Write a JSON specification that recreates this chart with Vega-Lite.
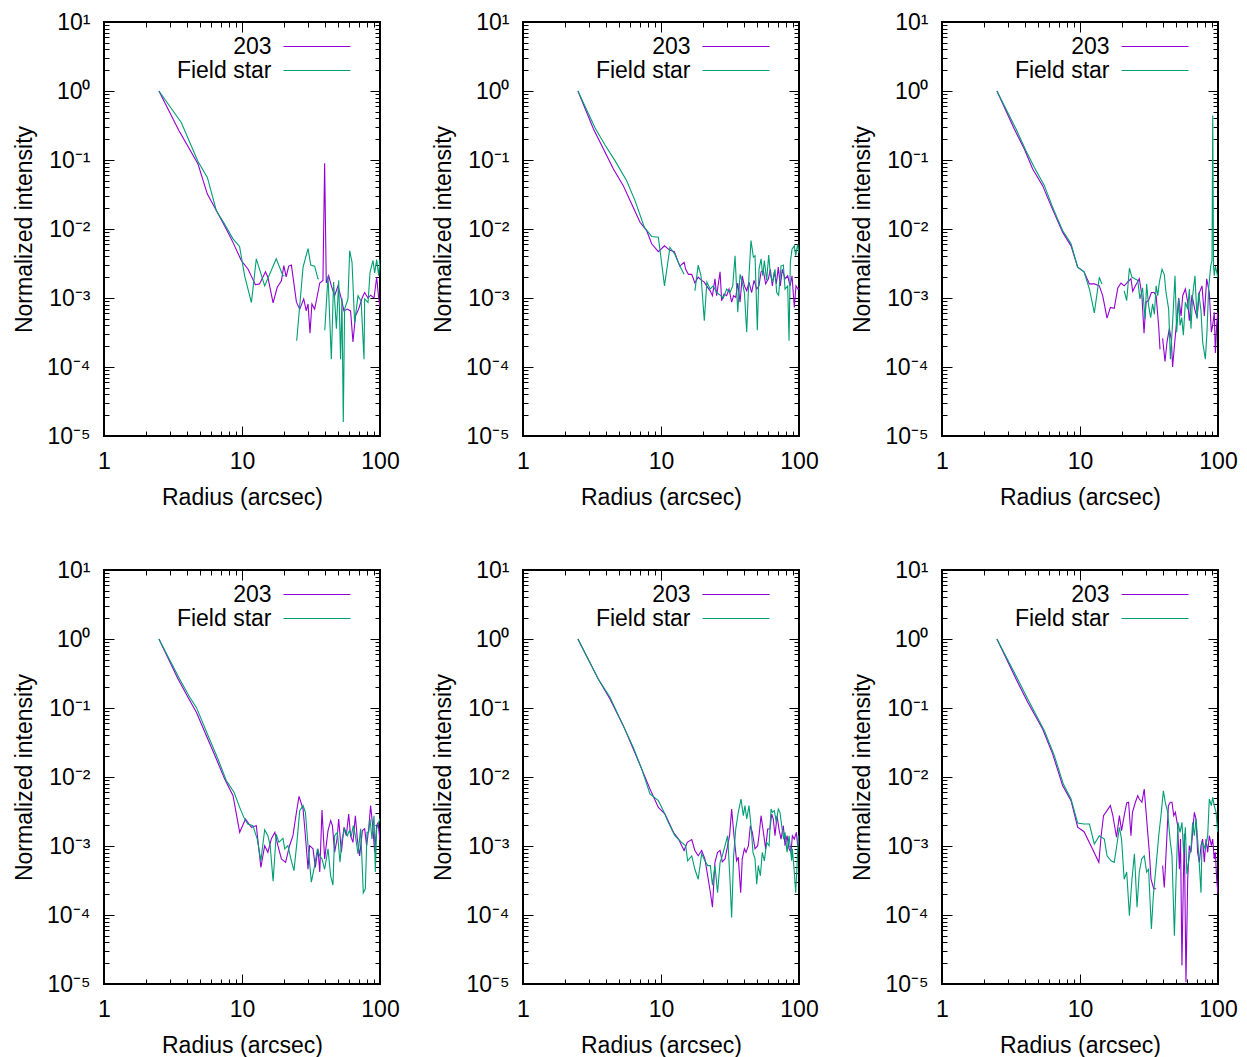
{
"$schema":"https://vega.github.io/schema/vega-lite/v6.json",
"background":"white",
"padding":{"left":12,"top":10,"right":5,"bottom":5},
"data":{"values":[
{"p":1,"s":"203","r":2.5,"v":1},{"p":1,"s":"203","r":3.48,"v":0.27},{"p":1,"s":"203","r":4.8,"v":0.0875},{"p":1,"s":"203","r":5.61,"v":0.0321},{"p":1,"s":"203","r":6.52,"v":0.0185},{"p":1,"s":"203","r":7.69,"v":0.01},{"p":1,"s":"203","r":8.6,"v":0.0064},{"p":1,"s":"203","r":9.9,"v":0.00347},{"p":1,"s":"203","r":11.05,"v":0.00263},{"p":1,"s":"203","r":12.5,"v":0.00156},{"p":1,"s":"203","r":13.4,"v":0.0016},{"p":1,"s":"203","r":14.8,"v":0.0024},{"p":1,"s":"203","r":15.4,"v":0.002},{"p":1,"s":"203","r":16.8,"v":0.00085},{"p":1,"s":"203","r":18.0,"v":0.00143},{"p":1,"s":"203","r":19.3,"v":0.00178},{"p":1,"s":"203","r":20.1,"v":0.00294},{"p":1,"s":"203","r":20.9,"v":0.00203},{"p":1,"s":"203","r":21.8,"v":0.0029},{"p":1,"s":"203","r":22.8,"v":0.003},{"p":1,"s":"203","r":24.8,"v":0.00087},{"p":1,"s":"203","r":26.2,"v":0.00069},{"p":1,"s":"203","r":28.0,"v":0.00097},{"p":1,"s":"203","r":29.2,"v":0.00065},{"p":1,"s":"203","r":30.1,"v":0.00082},{"p":1,"s":"203","r":31.1,"v":0.00031},{"p":1,"s":"203","r":32.1,"v":0.00082},{"p":1,"s":"203","r":33.6,"v":0.00069},{"p":1,"s":"203","r":34.6,"v":0.00092},{"p":1,"s":"203","r":36.6,"v":0.00165},{"p":1,"s":"203","r":38.6,"v":0.0018},{"p":1,"s":"203","r":39.7,"v":0.09},{"p":1,"s":"203","r":40.8,"v":0.00165},{"p":1,"s":"203","r":42.5,"v":0.0021},{"p":1,"s":"203","r":44.4,"v":0.0015},{"p":1,"s":"203","r":46.9,"v":0.00108},{"p":1,"s":"203","r":49.6,"v":0.0015},{"p":1,"s":"203","r":52.5,"v":0.00097},{"p":1,"s":"203","r":54.8,"v":0.00065},{"p":1,"s":"203","r":57.9,"v":0.00069},{"p":1,"s":"203","r":61.2,"v":0.00065},{"p":1,"s":"203","r":63.7,"v":0.00023},{"p":1,"s":"203","r":66.4,"v":0.00055},{"p":1,"s":"203","r":70.0,"v":0.00069},{"p":1,"s":"203","r":74.2,"v":0.001},{"p":1,"s":"203","r":77.4,"v":0.0012},{"p":1,"s":"203","r":81.9,"v":0.001},{"p":1,"s":"203","r":85.5,"v":0.0011},{"p":1,"s":"203","r":90.5,"v":0.001},{"p":1,"s":"203","r":94.6,"v":0.002},{"p":1,"s":"203","r":97.8,"v":0.001},{"p":1,"s":"203","r":100,"v":0.00075},
{"p":1,"s":"Field star","r":2.5,"v":1},{"p":1,"s":"Field star","r":3.63,"v":0.35},{"p":1,"s":"Field star","r":4.8,"v":0.095},{"p":1,"s":"Field star","r":5.61,"v":0.056},{"p":1,"s":"Field star","r":6.52,"v":0.0184},{"p":1,"s":"Field star","r":7.48,"v":0.0118},{"p":1,"s":"Field star","r":8.6,"v":0.0072},{"p":1,"s":"Field star","r":9.6,"v":0.0056},{"p":1,"s":"Field star","r":10.45,"v":0.0021},{"p":1,"s":"Field star","r":11.7,"v":0.00086},{"p":1,"s":"Field star","r":12.7,"v":0.0037},{"p":1,"s":"Field star","r":14.6,"v":0.0015},{"p":1,"s":"Field star","r":17.7,"v":0.0037},{"p":1,"s":"Field star","r":19.8,"v":0.0021},{"p":1,"s":"Field star","r":20.3,"v":0.0021},{"p":1,"s":"Field star","r":22,"v":null},{"p":1,"s":"Field star","r":24.9,"v":0.00024},{"p":1,"s":"Field star","r":27.7,"v":0.0028},{"p":1,"s":"Field star","r":30.1,"v":0.0052},{"p":1,"s":"Field star","r":31.5,"v":0.003},{"p":1,"s":"Field star","r":33.6,"v":0.0029},{"p":1,"s":"Field star","r":35.5,"v":0.0019},{"p":1,"s":"Field star","r":36.2,"v":0.0019},{"p":1,"s":"Field star","r":38,"v":null},{"p":1,"s":"Field star","r":39.8,"v":0.00034},{"p":1,"s":"Field star","r":42.0,"v":0.0021},{"p":1,"s":"Field star","r":44.4,"v":0.00013},{"p":1,"s":"Field star","r":46.1,"v":0.0017},{"p":1,"s":"Field star","r":48.3,"v":0.00036},{"p":1,"s":"Field star","r":50.2,"v":0.0018},{"p":1,"s":"Field star","r":51.8,"v":0.00013},{"p":1,"s":"Field star","r":53.0,"v":0.001},{"p":1,"s":"Field star","r":54.2,"v":0.000016},{"p":1,"s":"Field star","r":55.4,"v":0.00069},{"p":1,"s":"Field star","r":58.6,"v":0.00097},{"p":1,"s":"Field star","r":60.3,"v":0.00485},{"p":1,"s":"Field star","r":62.7,"v":0.0033},{"p":1,"s":"Field star","r":65.5,"v":0.00044},{"p":1,"s":"Field star","r":69.3,"v":0.00108},{"p":1,"s":"Field star","r":73.0,"v":0.0009},{"p":1,"s":"Field star","r":76.6,"v":0.00013},{"p":1,"s":"Field star","r":77.4,"v":0.00097},{"p":1,"s":"Field star","r":81.9,"v":0.00086},{"p":1,"s":"Field star","r":84.7,"v":0.00235},{"p":1,"s":"Field star","r":89.0,"v":0.0035},{"p":1,"s":"Field star","r":91.5,"v":0.0023},{"p":1,"s":"Field star","r":94.6,"v":0.0036},{"p":1,"s":"Field star","r":97.8,"v":0.0021},{"p":1,"s":"Field star","r":100,"v":0.0036},
{"p":2,"s":"203","r":2.5,"v":1},{"p":2,"s":"203","r":3.24,"v":0.281},{"p":2,"s":"203","r":3.72,"v":0.162},{"p":2,"s":"203","r":4.52,"v":0.074},{"p":2,"s":"203","r":5.33,"v":0.0425},{"p":2,"s":"203","r":6.13,"v":0.023},{"p":2,"s":"203","r":7.05,"v":0.0125},{"p":2,"s":"203","r":7.87,"v":0.0095},{"p":2,"s":"203","r":8.56,"v":0.0061},{"p":2,"s":"203","r":9.57,"v":0.0047},{"p":2,"s":"203","r":10.6,"v":0.0057},{"p":2,"s":"203","r":11.6,"v":0.0049},{"p":2,"s":"203","r":12.5,"v":0.0047},{"p":2,"s":"203","r":13.2,"v":0.0035},{"p":2,"s":"203","r":13.7,"v":0.0029},{"p":2,"s":"203","r":14.7,"v":0.0033},{"p":2,"s":"203","r":15.1,"v":0.0026},{"p":2,"s":"203","r":15.8,"v":0.0022},{"p":2,"s":"203","r":16.7,"v":0.0022},{"p":2,"s":"203","r":17.6,"v":0.00165},{"p":2,"s":"203","r":18.6,"v":0.002},{"p":2,"s":"203","r":19.7,"v":0.0018},{"p":2,"s":"203","r":20.6,"v":0.0017},{"p":2,"s":"203","r":21.4,"v":0.0015},{"p":2,"s":"203","r":22.7,"v":0.00127},{"p":2,"s":"203","r":23.6,"v":0.00108},{"p":2,"s":"203","r":24.6,"v":0.0019},{"p":2,"s":"203","r":25.3,"v":0.00108},{"p":2,"s":"203","r":26.8,"v":0.0024},{"p":2,"s":"203","r":27.5,"v":0.00091},{"p":2,"s":"203","r":28.6,"v":0.00114},{"p":2,"s":"203","r":29.9,"v":0.00108},{"p":2,"s":"203","r":31.1,"v":0.00135},{"p":2,"s":"203","r":32.5,"v":0.00087},{"p":2,"s":"203","r":33.6,"v":0.00108},{"p":2,"s":"203","r":34.8,"v":0.00102},{"p":2,"s":"203","r":36.0,"v":0.00165},{"p":2,"s":"203","r":37.4,"v":0.00087},{"p":2,"s":"203","r":38.8,"v":0.0021},{"p":2,"s":"203","r":40.2,"v":0.0015},{"p":2,"s":"203","r":41.8,"v":0.00127},{"p":2,"s":"203","r":43.4,"v":0.0017},{"p":2,"s":"203","r":45.4,"v":0.0012},{"p":2,"s":"203","r":47.2,"v":0.0018},{"p":2,"s":"203","r":49.4,"v":0.00135},{"p":2,"s":"203","r":51.3,"v":0.0015},{"p":2,"s":"203","r":53.1,"v":0.0024},{"p":2,"s":"203","r":55.2,"v":0.0025},{"p":2,"s":"203","r":57.3,"v":0.0016},{"p":2,"s":"203","r":60.0,"v":0.0019},{"p":2,"s":"203","r":62.0,"v":0.0026},{"p":2,"s":"203","r":64.1,"v":0.0015},{"p":2,"s":"203","r":66.3,"v":0.0024},{"p":2,"s":"203","r":68.5,"v":0.0016},{"p":2,"s":"203","r":70.8,"v":0.0028},{"p":2,"s":"203","r":73.2,"v":0.0015},{"p":2,"s":"203","r":75.7,"v":0.0026},{"p":2,"s":"203","r":79.2,"v":0.0019},{"p":2,"s":"203","r":82.8,"v":0.0021},{"p":2,"s":"203","r":86.1,"v":0.0015},{"p":2,"s":"203","r":89.0,"v":0.0021},{"p":2,"s":"203","r":92.5,"v":0.00073},{"p":2,"s":"203","r":95.1,"v":0.0015},{"p":2,"s":"203","r":98.4,"v":0.00135},{"p":2,"s":"203","r":100,"v":0.0014},
{"p":2,"s":"Field star","r":2.5,"v":1},{"p":2,"s":"Field star","r":3.33,"v":0.29},{"p":2,"s":"Field star","r":3.93,"v":0.165},{"p":2,"s":"Field star","r":4.64,"v":0.098},{"p":2,"s":"Field star","r":5.64,"v":0.05},{"p":2,"s":"Field star","r":6.48,"v":0.0258},{"p":2,"s":"Field star","r":7.57,"v":0.0106},{"p":2,"s":"Field star","r":8.56,"v":0.0078},{"p":2,"s":"Field star","r":9.57,"v":0.0076},{"p":2,"s":"Field star","r":10.6,"v":0.0015},{"p":2,"s":"Field star","r":11.6,"v":0.0054},{"p":2,"s":"Field star","r":12.6,"v":0.0043},{"p":2,"s":"Field star","r":13.7,"v":0.0029},{"p":2,"s":"Field star","r":14.7,"v":0.0022},{"p":2,"s":"Field star","r":16,"v":null},{"p":2,"s":"Field star","r":17.6,"v":0.00127},{"p":2,"s":"Field star","r":18.6,"v":0.003},{"p":2,"s":"Field star","r":19.5,"v":0.0021},{"p":2,"s":"Field star","r":20.6,"v":0.00047},{"p":2,"s":"Field star","r":21.5,"v":0.0017},{"p":2,"s":"Field star","r":22.7,"v":0.00135},{"p":2,"s":"Field star","r":23.9,"v":0.0015},{"p":2,"s":"Field star","r":25.3,"v":0.0012},{"p":2,"s":"Field star","r":26.8,"v":0.0011},{"p":2,"s":"Field star","r":28.3,"v":0.001},{"p":2,"s":"Field star","r":29.9,"v":0.00135},{"p":2,"s":"Field star","r":31.6,"v":0.0012},{"p":2,"s":"Field star","r":33.1,"v":0.0015},{"p":2,"s":"Field star","r":34.4,"v":0.0041},{"p":2,"s":"Field star","r":36.0,"v":0.00062},{"p":2,"s":"Field star","r":37.4,"v":0.0022},{"p":2,"s":"Field star","r":38.8,"v":0.0017},{"p":2,"s":"Field star","r":40.2,"v":0.0012},{"p":2,"s":"Field star","r":41.8,"v":0.00032},{"p":2,"s":"Field star","r":43.4,"v":0.0021},{"p":2,"s":"Field star","r":44.9,"v":0.0068},{"p":2,"s":"Field star","r":46.7,"v":0.0039},{"p":2,"s":"Field star","r":48.0,"v":0.0041},{"p":2,"s":"Field star","r":49.9,"v":0.00034},{"p":2,"s":"Field star","r":51.3,"v":0.0026},{"p":2,"s":"Field star","r":53.1,"v":0.0037},{"p":2,"s":"Field star","r":54.6,"v":0.0021},{"p":2,"s":"Field star","r":56.1,"v":0.0035},{"p":2,"s":"Field star","r":58.3,"v":0.0018},{"p":2,"s":"Field star","r":60.3,"v":0.0042},{"p":2,"s":"Field star","r":62.0,"v":0.0022},{"p":2,"s":"Field star","r":64.1,"v":0.0017},{"p":2,"s":"Field star","r":67.0,"v":0.0026},{"p":2,"s":"Field star","r":68.9,"v":0.0012},{"p":2,"s":"Field star","r":71.2,"v":0.0011},{"p":2,"s":"Field star","r":74.1,"v":0.0029},{"p":2,"s":"Field star","r":77.0,"v":0.003},{"p":2,"s":"Field star","r":79.2,"v":0.00135},{"p":2,"s":"Field star","r":82.8,"v":0.0015},{"p":2,"s":"Field star","r":84.7,"v":0.00024},{"p":2,"s":"Field star","r":86.5,"v":0.0033},{"p":2,"s":"Field star","r":89.0,"v":0.0051},{"p":2,"s":"Field star","r":92.5,"v":0.0057},{"p":2,"s":"Field star","r":94.6,"v":0.0041},{"p":2,"s":"Field star","r":97.8,"v":0.006},{"p":2,"s":"Field star","r":100,"v":0.0045},
{"p":3,"s":"203","r":2.5,"v":1},{"p":3,"s":"203","r":3.34,"v":0.281},{"p":3,"s":"203","r":3.95,"v":0.144},{"p":3,"s":"203","r":4.54,"v":0.074},{"p":3,"s":"203","r":5.36,"v":0.0425},{"p":3,"s":"203","r":6.16,"v":0.0218},{"p":3,"s":"203","r":7.48,"v":0.009},{"p":3,"s":"203","r":8.61,"v":0.0057},{"p":3,"s":"203","r":9.62,"v":0.0028},{"p":3,"s":"203","r":10.7,"v":0.0024},{"p":3,"s":"203","r":11.7,"v":0.0016},{"p":3,"s":"203","r":12.7,"v":0.0016},{"p":3,"s":"203","r":13.8,"v":0.0015},{"p":3,"s":"203","r":14.6,"v":0.00108},{"p":3,"s":"203","r":15.7,"v":0.00051},{"p":3,"s":"203","r":16.6,"v":0.00073},{"p":3,"s":"203","r":17.7,"v":0.00071},{"p":3,"s":"203","r":18.8,"v":0.0014},{"p":3,"s":"203","r":19.8,"v":0.00165},{"p":3,"s":"203","r":20.9,"v":0.0015},{"p":3,"s":"203","r":22.1,"v":0.0017},{"p":3,"s":"203","r":23.4,"v":0.0019},{"p":3,"s":"203","r":24.1,"v":0.00125},{"p":3,"s":"203","r":25.2,"v":0.0015},{"p":3,"s":"203","r":26.9,"v":0.0019},{"p":3,"s":"203","r":28.1,"v":0.00108},{"p":3,"s":"203","r":29.1,"v":0.00031},{"p":3,"s":"203","r":30.1,"v":0.00087},{"p":3,"s":"203","r":31.4,"v":0.00092},{"p":3,"s":"203","r":32.9,"v":0.0012},{"p":3,"s":"203","r":34.4,"v":0.0012},{"p":3,"s":"203","r":35.6,"v":0.00108},{"p":3,"s":"203","r":37.2,"v":0.00038},{"p":3,"s":"203","r":38.0,"v":0.00018},{"p":3,"s":"203","r":38.8,"v":null},{"p":3,"s":"203","r":39.7,"v":0.00026},{"p":3,"s":"203","r":41.3,"v":0.00012},{"p":3,"s":"203","r":42.7,"v":0.00023},{"p":3,"s":"203","r":44.4,"v":0.00036},{"p":3,"s":"203","r":45.9,"v":0.00025},{"p":3,"s":"203","r":46.9,"v":0.0001},{"p":3,"s":"203","r":48.3,"v":0.0002},{"p":3,"s":"203","r":49.6,"v":0.00036},{"p":3,"s":"203","r":51.9,"v":0.001},{"p":3,"s":"203","r":54.0,"v":0.00055},{"p":3,"s":"203","r":55.5,"v":0.00108},{"p":3,"s":"203","r":58.0,"v":0.00135},{"p":3,"s":"203","r":60.3,"v":0.00087},{"p":3,"s":"203","r":62.0,"v":0.00047},{"p":3,"s":"203","r":64.8,"v":0.0011},{"p":3,"s":"203","r":67.8,"v":0.00069},{"p":3,"s":"203","r":70.5,"v":0.00052},{"p":3,"s":"203","r":73.3,"v":0.0012},{"p":3,"s":"203","r":76.6,"v":0.0015},{"p":3,"s":"203","r":79.6,"v":0.00055},{"p":3,"s":"203","r":82.8,"v":0.0019},{"p":3,"s":"203","r":86.5,"v":0.0012},{"p":3,"s":"203","r":89.5,"v":0.00032},{"p":3,"s":"203","r":91.5,"v":0.0004},{"p":3,"s":"203","r":94.0,"v":0.00062},{"p":3,"s":"203","r":95.7,"v":0.00016},{"p":3,"s":"203","r":97.8,"v":0.0004},{"p":3,"s":"203","r":99.5,"v":0.00062},
{"p":3,"s":"Field star","r":2.5,"v":1},{"p":3,"s":"Field star","r":3.44,"v":0.281},{"p":3,"s":"Field star","r":4.06,"v":0.136},{"p":3,"s":"Field star","r":4.67,"v":0.078},{"p":3,"s":"Field star","r":5.52,"v":0.0425},{"p":3,"s":"Field star","r":6.34,"v":0.0206},{"p":3,"s":"Field star","r":7.48,"v":0.0095},{"p":3,"s":"Field star","r":8.61,"v":0.0061},{"p":3,"s":"Field star","r":9.62,"v":0.0028},{"p":3,"s":"Field star","r":10.7,"v":0.0024},{"p":3,"s":"Field star","r":11.7,"v":0.00135},{"p":3,"s":"Field star","r":12.7,"v":0.00061},{"p":3,"s":"Field star","r":13.8,"v":0.002},{"p":3,"s":"Field star","r":14.4,"v":0.0016},{"p":3,"s":"Field star","r":17,"v":null},{"p":3,"s":"Field star","r":20.9,"v":0.00127},{"p":3,"s":"Field star","r":21.8,"v":0.00092},{"p":3,"s":"Field star","r":22.8,"v":0.0027},{"p":3,"s":"Field star","r":23.8,"v":0.002},{"p":3,"s":"Field star","r":24.9,"v":0.0019},{"p":3,"s":"Field star","r":26.2,"v":0.0018},{"p":3,"s":"Field star","r":27.2,"v":0.00097},{"p":3,"s":"Field star","r":28.4,"v":0.0014},{"p":3,"s":"Field star","r":29.6,"v":0.0005},{"p":3,"s":"Field star","r":30.4,"v":0.0016},{"p":3,"s":"Field star","r":31.4,"v":0.00078},{"p":3,"s":"Field star","r":32.5,"v":0.00052},{"p":3,"s":"Field star","r":33.6,"v":0.00082},{"p":3,"s":"Field star","r":34.6,"v":0.00058},{"p":3,"s":"Field star","r":35.6,"v":0.0015},{"p":3,"s":"Field star","r":36.6,"v":0.00108},{"p":3,"s":"Field star","r":37.6,"v":0.0017},{"p":3,"s":"Field star","r":39.3,"v":0.0026},{"p":3,"s":"Field star","r":40.8,"v":0.0022},{"p":3,"s":"Field star","r":42.0,"v":0.0012},{"p":3,"s":"Field star","r":43.9,"v":0.00069},{"p":3,"s":"Field star","r":45.2,"v":0.00013},{"p":3,"s":"Field star","r":46.9,"v":0.00044},{"p":3,"s":"Field star","r":48.8,"v":0.0021},{"p":3,"s":"Field star","r":50.2,"v":0.00032},{"p":3,"s":"Field star","r":51.9,"v":0.00097},{"p":3,"s":"Field star","r":53.1,"v":0.0004},{"p":3,"s":"Field star","r":54.6,"v":0.00052},{"p":3,"s":"Field star","r":56.1,"v":0.00029},{"p":3,"s":"Field star","r":58.0,"v":0.00087},{"p":3,"s":"Field star","r":60.3,"v":0.00069},{"p":3,"s":"Field star","r":62.0,"v":0.00135},{"p":3,"s":"Field star","r":63.7,"v":0.00036},{"p":3,"s":"Field star","r":65.5,"v":0.00108},{"p":3,"s":"Field star","r":68.1,"v":0.0021},{"p":3,"s":"Field star","r":70.5,"v":0.0005},{"p":3,"s":"Field star","r":72.4,"v":0.0012},{"p":3,"s":"Field star","r":75.3,"v":0.00065},{"p":3,"s":"Field star","r":77.4,"v":0.00023},{"p":3,"s":"Field star","r":81.0,"v":0.00013},{"p":3,"s":"Field star","r":83.2,"v":0.00032},{"p":3,"s":"Field star","r":85.5,"v":0.00135},{"p":3,"s":"Field star","r":88.5,"v":0.0029},{"p":3,"s":"Field star","r":90.5,"v":0.0035},{"p":3,"s":"Field star","r":91.6,"v":0.44},{"p":3,"s":"Field star","r":92.8,"v":0.0029},{"p":3,"s":"Field star","r":94.0,"v":0.0021},{"p":3,"s":"Field star","r":95.7,"v":0.0029},{"p":3,"s":"Field star","r":97.8,"v":0.0024},{"p":3,"s":"Field star","r":99.5,"v":0.002},
{"p":4,"s":"203","r":2.5,"v":1},{"p":4,"s":"203","r":3.44,"v":0.263},{"p":4,"s":"203","r":4.06,"v":0.143},{"p":4,"s":"203","r":4.67,"v":0.0865},{"p":4,"s":"203","r":5.52,"v":0.0397},{"p":4,"s":"203","r":6.52,"v":0.0182},{"p":4,"s":"203","r":7.48,"v":0.0094},{"p":4,"s":"203","r":8.61,"v":0.00536},{"p":4,"s":"203","r":9.62,"v":0.00158},{"p":4,"s":"203","r":10.6,"v":0.00246},{"p":4,"s":"203","r":11.7,"v":0.00187},{"p":4,"s":"203","r":12.7,"v":0.00197},{"p":4,"s":"203","r":13.7,"v":0.00049},{"p":4,"s":"203","r":14.6,"v":0.00101},{"p":4,"s":"203","r":15.4,"v":0.00081},{"p":4,"s":"203","r":16.3,"v":0.00126},{"p":4,"s":"203","r":17.3,"v":0.00158},{"p":4,"s":"203","r":18.2,"v":0.00101},{"p":4,"s":"203","r":19.3,"v":0.00065},{"p":4,"s":"203","r":20.7,"v":0.00058},{"p":4,"s":"203","r":22.1,"v":0.00101},{"p":4,"s":"203","r":23.4,"v":0.00141},{"p":4,"s":"203","r":24.8,"v":0.00308},{"p":4,"s":"203","r":25.9,"v":0.00525},{"p":4,"s":"203","r":27.7,"v":0.00344},{"p":4,"s":"203","r":28.8,"v":0.00141},{"p":4,"s":"203","r":30.1,"v":0.00046},{"p":4,"s":"203","r":30.9,"v":0.00101},{"p":4,"s":"203","r":32.7,"v":0.00091},{"p":4,"s":"203","r":34.0,"v":0.00049},{"p":4,"s":"203","r":35.5,"v":0.00091},{"p":4,"s":"203","r":36.6,"v":0.00042},{"p":4,"s":"203","r":38.0,"v":0.00333},{"p":4,"s":"203","r":39.7,"v":0.00065},{"p":4,"s":"203","r":42.0,"v":0.00167},{"p":4,"s":"203","r":43.9,"v":0.00233},{"p":4,"s":"203","r":45.2,"v":0.00197},{"p":4,"s":"203","r":46.9,"v":0.00081},{"p":4,"s":"203","r":48.8,"v":0.00126},{"p":4,"s":"203","r":50.2,"v":0.00246},{"p":4,"s":"203","r":52.5,"v":0.00081},{"p":4,"s":"203","r":54.8,"v":0.00187},{"p":4,"s":"203","r":57.0,"v":0.00141},{"p":4,"s":"203","r":59.3,"v":0.00291},{"p":4,"s":"203","r":61.2,"v":0.00141},{"p":4,"s":"203","r":63.7,"v":0.00113},{"p":4,"s":"203","r":66.3,"v":0.00275},{"p":4,"s":"203","r":68.5,"v":0.00126},{"p":4,"s":"203","r":71.2,"v":0.00072},{"p":4,"s":"203","r":74.5,"v":0.00167},{"p":4,"s":"203","r":77.4,"v":0.00177},{"p":4,"s":"203","r":80.0,"v":0.00101},{"p":4,"s":"203","r":82.8,"v":0.00177},{"p":4,"s":"203","r":85.5,"v":0.00385},{"p":4,"s":"203","r":88.5,"v":0.00197},{"p":4,"s":"203","r":91.5,"v":0.00081},{"p":4,"s":"203","r":94.6,"v":0.00197},{"p":4,"s":"203","r":96.8,"v":0.0022},{"p":4,"s":"203","r":100,"v":0.0012},
{"p":4,"s":"Field star","r":2.5,"v":1},{"p":4,"s":"Field star","r":3.53,"v":0.263},{"p":4,"s":"Field star","r":4.18,"v":0.143},{"p":4,"s":"Field star","r":4.67,"v":0.102},{"p":4,"s":"Field star","r":5.68,"v":0.0397},{"p":4,"s":"Field star","r":6.7,"v":0.0182},{"p":4,"s":"Field star","r":7.69,"v":0.0089},{"p":4,"s":"Field star","r":8.75,"v":0.006},{"p":4,"s":"Field star","r":9.62,"v":0.00363},{"p":4,"s":"Field star","r":10.3,"v":0.0026},{"p":4,"s":"Field star","r":11.0,"v":0.00208},{"p":4,"s":"Field star","r":12.0,"v":0.00197},{"p":4,"s":"Field star","r":12.9,"v":0.00126},{"p":4,"s":"Field star","r":13.7,"v":0.00061},{"p":4,"s":"Field star","r":14.6,"v":0.00172},{"p":4,"s":"Field star","r":15.4,"v":0.00141},{"p":4,"s":"Field star","r":16.0,"v":0.00101},{"p":4,"s":"Field star","r":16.8,"v":0.00031},{"p":4,"s":"Field star","r":17.7,"v":0.00149},{"p":4,"s":"Field star","r":18.5,"v":0.00113},{"p":4,"s":"Field star","r":19.8,"v":0.00129},{"p":4,"s":"Field star","r":20.4,"v":0.00091},{"p":4,"s":"Field star","r":21.5,"v":0.00101},{"p":4,"s":"Field star","r":22.8,"v":0.00061},{"p":4,"s":"Field star","r":23.8,"v":0.00044},{"p":4,"s":"Field star","r":25.0,"v":0.00113},{"p":4,"s":"Field star","r":26.2,"v":0.00325},{"p":4,"s":"Field star","r":27.7,"v":0.00385},{"p":4,"s":"Field star","r":28.8,"v":0.00308},{"p":4,"s":"Field star","r":30.1,"v":0.00101},{"p":4,"s":"Field star","r":31.8,"v":0.0003},{"p":4,"s":"Field star","r":33.6,"v":0.00052},{"p":4,"s":"Field star","r":35.2,"v":0.00091},{"p":4,"s":"Field star","r":36.6,"v":0.00072},{"p":4,"s":"Field star","r":38.0,"v":0.00065},{"p":4,"s":"Field star","r":39.7,"v":0.00046},{"p":4,"s":"Field star","r":42.0,"v":0.00091},{"p":4,"s":"Field star","r":43.9,"v":0.00037},{"p":4,"s":"Field star","r":45.6,"v":0.00027},{"p":4,"s":"Field star","r":46.9,"v":0.00141},{"p":4,"s":"Field star","r":49.1,"v":0.00158},{"p":4,"s":"Field star","r":51.3,"v":0.00058},{"p":4,"s":"Field star","r":53.1,"v":0.00126},{"p":4,"s":"Field star","r":55.5,"v":0.00177},{"p":4,"s":"Field star","r":58.0,"v":0.00141},{"p":4,"s":"Field star","r":60.0,"v":0.00167},{"p":4,"s":"Field star","r":62.0,"v":0.00141},{"p":4,"s":"Field star","r":64.1,"v":0.00197},{"p":4,"s":"Field star","r":66.3,"v":0.00141},{"p":4,"s":"Field star","r":69.3,"v":0.00077},{"p":4,"s":"Field star","r":72.4,"v":0.00177},{"p":4,"s":"Field star","r":75.7,"v":0.00021},{"p":4,"s":"Field star","r":78.3,"v":0.00024},{"p":4,"s":"Field star","r":80.5,"v":0.00158},{"p":4,"s":"Field star","r":82.8,"v":0.00158},{"p":4,"s":"Field star","r":84.7,"v":0.00246},{"p":4,"s":"Field star","r":87.5,"v":0.00126},{"p":4,"s":"Field star","r":90.5,"v":0.00275},{"p":4,"s":"Field star","r":92.5,"v":0.00042},{"p":4,"s":"Field star","r":94.6,"v":0.00177},{"p":4,"s":"Field star","r":97.8,"v":0.0022},{"p":4,"s":"Field star","r":100,"v":0.0025},
{"p":5,"s":"203","r":2.5,"v":1},{"p":5,"s":"203","r":3.51,"v":0.263},{"p":5,"s":"203","r":4.27,"v":0.135},{"p":5,"s":"203","r":5.33,"v":0.0555},{"p":5,"s":"203","r":6.3,"v":0.0255},{"p":5,"s":"203","r":7.24,"v":0.0131},{"p":5,"s":"203","r":8.32,"v":0.0067},{"p":5,"s":"203","r":9.57,"v":0.00363},{"p":5,"s":"203","r":10.7,"v":0.00291},{"p":5,"s":"203","r":12.3,"v":0.00158},{"p":5,"s":"203","r":13.4,"v":0.00126},{"p":5,"s":"203","r":14.7,"v":0.00086},{"p":5,"s":"203","r":15.5,"v":0.00113},{"p":5,"s":"203","r":16.7,"v":0.00124},{"p":5,"s":"203","r":17.6,"v":0.00086},{"p":5,"s":"203","r":18.6,"v":0.00072},{"p":5,"s":"203","r":19.7,"v":0.00086},{"p":5,"s":"203","r":20.8,"v":0.00065},{"p":5,"s":"203","r":21.8,"v":0.00037},{"p":5,"s":"203","r":22.8,"v":0.00021},{"p":5,"s":"203","r":23.6,"v":0.00013},{"p":5,"s":"203","r":24.6,"v":0.00058},{"p":5,"s":"203","r":25.7,"v":0.00081},{"p":5,"s":"203","r":26.8,"v":0.00086},{"p":5,"s":"203","r":27.8,"v":0.00059},{"p":5,"s":"203","r":29.1,"v":0.00065},{"p":5,"s":"203","r":30.4,"v":0.00101},{"p":5,"s":"203","r":31.4,"v":0.00141},{"p":5,"s":"203","r":32.5,"v":0.00344},{"p":5,"s":"203","r":33.8,"v":0.00141},{"p":5,"s":"203","r":35.3,"v":0.00061},{"p":5,"s":"203","r":36.3,"v":0.00069},{"p":5,"s":"203","r":37.8,"v":0.00021},{"p":5,"s":"203","r":38.8,"v":0.00065},{"p":5,"s":"203","r":40.2,"v":0.00091},{"p":5,"s":"203","r":41.3,"v":0.00081},{"p":5,"s":"203","r":43.0,"v":0.00101},{"p":5,"s":"203","r":44.4,"v":0.00197},{"p":5,"s":"203","r":45.9,"v":0.00158},{"p":5,"s":"203","r":48.0,"v":0.00091},{"p":5,"s":"203","r":50.2,"v":0.00101},{"p":5,"s":"203","r":51.3,"v":0.00141},{"p":5,"s":"203","r":53.1,"v":0.00275},{"p":5,"s":"203","r":55.2,"v":0.00158},{"p":5,"s":"203","r":57.3,"v":0.00091},{"p":5,"s":"203","r":59.3,"v":0.00176},{"p":5,"s":"203","r":61.6,"v":0.00176},{"p":5,"s":"203","r":63.4,"v":0.00291},{"p":5,"s":"203","r":65.1,"v":0.00246},{"p":5,"s":"203","r":67.0,"v":0.00141},{"p":5,"s":"203","r":69.3,"v":0.00275},{"p":5,"s":"203","r":71.6,"v":0.00176},{"p":5,"s":"203","r":74.1,"v":0.00126},{"p":5,"s":"203","r":77.0,"v":0.00197},{"p":5,"s":"203","r":79.2,"v":0.00101},{"p":5,"s":"203","r":81.9,"v":0.00141},{"p":5,"s":"203","r":84.7,"v":0.00091},{"p":5,"s":"203","r":87.5,"v":0.00081},{"p":5,"s":"203","r":89.5,"v":0.00141},{"p":5,"s":"203","r":92.5,"v":0.00126},{"p":5,"s":"203","r":95.7,"v":0.00158},{"p":5,"s":"203","r":97.8,"v":0.00101},{"p":5,"s":"203","r":100,"v":0.0012},
{"p":5,"s":"Field star","r":2.5,"v":1},{"p":5,"s":"Field star","r":3.51,"v":0.263},{"p":5,"s":"Field star","r":4.27,"v":0.143},{"p":5,"s":"Field star","r":5.19,"v":0.0619},{"p":5,"s":"Field star","r":6.3,"v":0.0269},{"p":5,"s":"Field star","r":7.24,"v":0.0131},{"p":5,"s":"Field star","r":8.32,"v":0.00567},{"p":5,"s":"Field star","r":9.57,"v":0.00454},{"p":5,"s":"Field star","r":10.4,"v":0.00325},{"p":5,"s":"Field star","r":11.3,"v":0.0022},{"p":5,"s":"Field star","r":12.6,"v":0.00141},{"p":5,"s":"Field star","r":14.1,"v":0.00113},{"p":5,"s":"Field star","r":15.1,"v":0.00101},{"p":5,"s":"Field star","r":15.6,"v":0.00061},{"p":5,"s":"Field star","r":16.7,"v":0.00072},{"p":5,"s":"Field star","r":17.6,"v":0.00046},{"p":5,"s":"Field star","r":18.6,"v":0.00033},{"p":5,"s":"Field star","r":19.7,"v":0.00077},{"p":5,"s":"Field star","r":20.8,"v":0.00061},{"p":5,"s":"Field star","r":21.8,"v":0.00052},{"p":5,"s":"Field star","r":22.8,"v":0.00052},{"p":5,"s":"Field star","r":23.6,"v":0.00027},{"p":5,"s":"Field star","r":24.6,"v":0.00052},{"p":5,"s":"Field star","r":25.7,"v":0.00021},{"p":5,"s":"Field star","r":26.8,"v":0.00058},{"p":5,"s":"Field star","r":27.8,"v":0.00072},{"p":5,"s":"Field star","r":29.1,"v":0.00101},{"p":5,"s":"Field star","r":30.4,"v":0.00141},{"p":5,"s":"Field star","r":31.6,"v":0.00033},{"p":5,"s":"Field star","r":32.5,"v":0.000092},{"p":5,"s":"Field star","r":33.6,"v":0.00072},{"p":5,"s":"Field star","r":34.8,"v":0.00176},{"p":5,"s":"Field star","r":36.3,"v":0.00308},{"p":5,"s":"Field star","r":38.0,"v":0.0048},{"p":5,"s":"Field star","r":39.5,"v":0.00275},{"p":5,"s":"Field star","r":40.6,"v":0.00385},{"p":5,"s":"Field star","r":41.8,"v":0.00246},{"p":5,"s":"Field star","r":43.4,"v":0.00385},{"p":5,"s":"Field star","r":44.9,"v":0.00197},{"p":5,"s":"Field star","r":46.4,"v":0.00081},{"p":5,"s":"Field star","r":48.0,"v":0.00065},{"p":5,"s":"Field star","r":49.4,"v":0.00028},{"p":5,"s":"Field star","r":50.7,"v":0.00052},{"p":5,"s":"Field star","r":52.5,"v":0.00037},{"p":5,"s":"Field star","r":54.2,"v":0.00081},{"p":5,"s":"Field star","r":56.1,"v":0.00061},{"p":5,"s":"Field star","r":58.3,"v":0.00113},{"p":5,"s":"Field star","r":60.7,"v":0.00101},{"p":5,"s":"Field star","r":62.7,"v":0.00344},{"p":5,"s":"Field star","r":64.1,"v":0.00308},{"p":5,"s":"Field star","r":66.3,"v":0.00325},{"p":5,"s":"Field star","r":68.5,"v":0.0022},{"p":5,"s":"Field star","r":70.8,"v":0.00344},{"p":5,"s":"Field star","r":72.8,"v":0.00308},{"p":5,"s":"Field star","r":74.9,"v":0.00197},{"p":5,"s":"Field star","r":77.4,"v":0.00126},{"p":5,"s":"Field star","r":79.2,"v":0.00158},{"p":5,"s":"Field star","r":81.9,"v":0.00081},{"p":5,"s":"Field star","r":84.7,"v":0.00141},{"p":5,"s":"Field star","r":88.5,"v":0.00061},{"p":5,"s":"Field star","r":89.5,"v":0.00091},{"p":5,"s":"Field star","r":92.5,"v":0.00042},{"p":5,"s":"Field star","r":94.6,"v":0.00021},{"p":5,"s":"Field star","r":96.8,"v":0.00052},{"p":5,"s":"Field star","r":98.9,"v":0.00141},
{"p":6,"s":"203","r":2.5,"v":1},{"p":6,"s":"203","r":3.44,"v":0.263},{"p":6,"s":"203","r":4.18,"v":0.121},{"p":6,"s":"203","r":5.36,"v":0.0497},{"p":6,"s":"203","r":6.34,"v":0.0215},{"p":6,"s":"203","r":7.48,"v":0.0075},{"p":6,"s":"203","r":8.61,"v":0.00454},{"p":6,"s":"203","r":9.62,"v":0.00187},{"p":6,"s":"203","r":10.7,"v":0.00161},{"p":6,"s":"203","r":12.0,"v":0.00101},{"p":6,"s":"203","r":13.7,"v":0.00058},{"p":6,"s":"203","r":14.2,"v":0.00134},{"p":6,"s":"203","r":14.8,"v":0.00275},{"p":6,"s":"203","r":16.6,"v":0.00385},{"p":6,"s":"203","r":17.3,"v":0.00275},{"p":6,"s":"203","r":18.4,"v":0.00134},{"p":6,"s":"203","r":19.3,"v":0.00275},{"p":6,"s":"203","r":20.0,"v":0.00167},{"p":6,"s":"203","r":20.9,"v":0.00275},{"p":6,"s":"203","r":21.8,"v":0.0042},{"p":6,"s":"203","r":22.5,"v":0.0043},{"p":6,"s":"203","r":23.4,"v":0.00141},{"p":6,"s":"203","r":24.0,"v":0.00308},{"p":6,"s":"203","r":25.2,"v":0.0043},{"p":6,"s":"203","r":26.2,"v":0.00536},{"p":6,"s":"203","r":26.9,"v":0.0048},{"p":6,"s":"203","r":28.1,"v":0.0043},{"p":6,"s":"203","r":29.2,"v":0.0067},{"p":6,"s":"203","r":30.4,"v":0.00246},{"p":6,"s":"203","r":31.8,"v":0.00081},{"p":6,"s":"203","r":32.7,"v":0.00033},{"p":6,"s":"203","r":34.2,"v":0.00024},{"p":6,"s":"203","r":35.6,"v":0.00024},{"p":6,"s":"203","r":37.5,"v":null},{"p":6,"s":"203","r":39.7,"v":0.00052},{"p":6,"s":"203","r":40.8,"v":0.00025},{"p":6,"s":"203","r":41.5,"v":0.00046},{"p":6,"s":"203","r":43.7,"v":0.00385},{"p":6,"s":"203","r":45.2,"v":0.0043},{"p":6,"s":"203","r":46.4,"v":0.0043},{"p":6,"s":"203","r":47.8,"v":0.00275},{"p":6,"s":"203","r":49.1,"v":0.00308},{"p":6,"s":"203","r":51.0,"v":0.00197},{"p":6,"s":"203","r":52.5,"v":0.00046},{"p":6,"s":"203","r":53.5,"v":0.00126},{"p":6,"s":"203","r":54.8,"v":0.0000185},{"p":6,"s":"203","r":56.1,"v":0.00033},{"p":6,"s":"203","r":57.0,"v":0.0015},{"p":6,"s":"203","r":58.6,"v":0.0000106},{"p":6,"s":"203","r":60.3,"v":0.00033},{"p":6,"s":"203","r":62.0,"v":0.00101},{"p":6,"s":"203","r":63.7,"v":0.00081},{"p":6,"s":"203","r":65.5,"v":0.00158},{"p":6,"s":"203","r":67.4,"v":0.00308},{"p":6,"s":"203","r":69.3,"v":0.00246},{"p":6,"s":"203","r":71.2,"v":0.00081},{"p":6,"s":"203","r":73.3,"v":0.00058},{"p":6,"s":"203","r":75.3,"v":0.00101},{"p":6,"s":"203","r":77.4,"v":0.00126},{"p":6,"s":"203","r":79.6,"v":0.00058},{"p":6,"s":"203","r":81.9,"v":0.00126},{"p":6,"s":"203","r":84.2,"v":0.00081},{"p":6,"s":"203","r":86.5,"v":0.00141},{"p":6,"s":"203","r":89.5,"v":0.00101},{"p":6,"s":"203","r":91.5,"v":0.00126},{"p":6,"s":"203","r":94.0,"v":0.00065},{"p":6,"s":"203","r":95.7,"v":0.00081},{"p":6,"s":"203","r":97.8,"v":0.00033},{"p":6,"s":"203","r":100,"v":0.0002},
{"p":6,"s":"Field star","r":2.5,"v":1},{"p":6,"s":"Field star","r":3.53,"v":0.263},{"p":6,"s":"Field star","r":4.3,"v":0.121},{"p":6,"s":"Field star","r":5.52,"v":0.0469},{"p":6,"s":"Field star","r":6.52,"v":0.0204},{"p":6,"s":"Field star","r":7.57,"v":0.0079},{"p":6,"s":"Field star","r":8.61,"v":0.0048},{"p":6,"s":"Field star","r":9.62,"v":0.00215},{"p":6,"s":"Field star","r":10.7,"v":0.00208},{"p":6,"s":"Field star","r":11.7,"v":0.00208},{"p":6,"s":"Field star","r":12.7,"v":0.00107},{"p":6,"s":"Field star","r":13.8,"v":0.00141},{"p":6,"s":"Field star","r":15.0,"v":0.00126},{"p":6,"s":"Field star","r":15.7,"v":0.00072},{"p":6,"s":"Field star","r":16.8,"v":0.00061},{"p":6,"s":"Field star","r":17.7,"v":0.00058},{"p":6,"s":"Field star","r":18.4,"v":0.00096},{"p":6,"s":"Field star","r":19.3,"v":0.00187},{"p":6,"s":"Field star","r":20.0,"v":0.00126},{"p":6,"s":"Field star","r":20.9,"v":0.00033},{"p":6,"s":"Field star","r":21.8,"v":0.00042},{"p":6,"s":"Field star","r":22.8,"v":0.000098},{"p":6,"s":"Field star","r":23.8,"v":0.00033},{"p":6,"s":"Field star","r":24.8,"v":0.00077},{"p":6,"s":"Field star","r":25.9,"v":0.00013},{"p":6,"s":"Field star","r":26.9,"v":0.00042},{"p":6,"s":"Field star","r":28.0,"v":0.00065},{"p":6,"s":"Field star","r":29.2,"v":0.00072},{"p":6,"s":"Field star","r":30.4,"v":0.00042},{"p":6,"s":"Field star","r":31.4,"v":0.00046},{"p":6,"s":"Field star","r":32.9,"v":0.000063},{"p":6,"s":"Field star","r":34.0,"v":0.00019},{"p":6,"s":"Field star","r":35.6,"v":0.00052},{"p":6,"s":"Field star","r":37.2,"v":0.00141},{"p":6,"s":"Field star","r":38.6,"v":0.00275},{"p":6,"s":"Field star","r":40.2,"v":0.0063},{"p":6,"s":"Field star","r":41.5,"v":0.0043},{"p":6,"s":"Field star","r":43.2,"v":0.00308},{"p":6,"s":"Field star","r":44.9,"v":0.00126},{"p":6,"s":"Field star","r":46.4,"v":0.00072},{"p":6,"s":"Field star","r":48.3,"v":0.00005},{"p":6,"s":"Field star","r":49.6,"v":0.0003},{"p":6,"s":"Field star","r":51.3,"v":0.0022},{"p":6,"s":"Field star","r":53.1,"v":0.00158},{"p":6,"s":"Field star","r":54.8,"v":0.0022},{"p":6,"s":"Field star","r":56.4,"v":0.00077},{"p":6,"s":"Field star","r":58.0,"v":0.00187},{"p":6,"s":"Field star","r":59.5,"v":0.00039},{"p":6,"s":"Field star","r":62.0,"v":0.00072},{"p":6,"s":"Field star","r":63.7,"v":0.00091},{"p":6,"s":"Field star","r":65.5,"v":0.0022},{"p":6,"s":"Field star","r":67.4,"v":0.00141},{"p":6,"s":"Field star","r":69.3,"v":0.00246},{"p":6,"s":"Field star","r":71.2,"v":0.00126},{"p":6,"s":"Field star","r":73.3,"v":0.00052},{"p":6,"s":"Field star","r":75.3,"v":0.00021},{"p":6,"s":"Field star","r":76.6,"v":0.00113},{"p":6,"s":"Field star","r":78.3,"v":0.00107},{"p":6,"s":"Field star","r":81.0,"v":0.00091},{"p":6,"s":"Field star","r":84.2,"v":0.00141},{"p":6,"s":"Field star","r":86.5,"v":0.0048},{"p":6,"s":"Field star","r":89.5,"v":0.00385},{"p":6,"s":"Field star","r":91.5,"v":0.00507},{"p":6,"s":"Field star","r":94.0,"v":0.00385},{"p":6,"s":"Field star","r":96.8,"v":0.00308},{"p":6,"s":"Field star","r":99.5,"v":0.00158}
]},
"columns":3,
"spacing":{"row":134,"column":143},
"bounds":"flush",
"resolve":{"legend":{"color":"independent"}},
"concat":[
{"width":276,"height":414,"transform":[{"filter":"datum.p==1"}],"resolve":{"axis":{"x":"independent","y":"independent"}},"layer":[
{"mark":{"type":"line","strokeWidth":1.1,"clip":true,"invalid":"break-paths-show-domains"},"encoding":{
"x":{"field":"r","type":"quantitative","scale":{"type":"log","domain":[1,100],"nice":false},"axis":{"orient":"bottom","values":[1,2,3,4,5,6,7,8,9,10,20,30,40,50,60,70,80,90,100],"labelExpr":"datum.value==1?'1':datum.value==10?'10':datum.value==100?'100':''","tickSize":{"condition":{"test":"datum.value==1||datum.value==10||datum.value==100","value":-10},"value":-5},"title":"Radius (arcsec)"}},
"y":{"field":"v","type":"quantitative","scale":{"type":"log","domain":[0.00001,10],"nice":false},"axis":{"orient":"left","values":[0.00001,0.00002,0.00003,0.00004,0.00005,0.00006,0.00007,0.00008,0.00009,0.0001,0.0002,0.0003,0.0004,0.0005,0.0006,0.0007,0.0008,0.0009,0.001,0.002,0.003,0.004,0.005,0.006,0.007,0.008,0.009,0.01,0.02,0.03,0.04,0.05,0.06,0.07,0.08,0.09,0.1,0.2,0.3,0.4,0.5,0.6,0.7,0.8,0.9,1,2,3,4,5,6,7,8,9,10],"labelExpr":"indexof([0.00001,0.0001,0.001,0.01,0.1,1,10],datum.value)>=0?'10'+['⁻⁵','⁻⁴','⁻³','⁻²','⁻¹','⁰','¹'][indexof([0.00001,0.0001,0.001,0.01,0.1,1,10],datum.value)]:''","tickSize":{"condition":{"test":"indexof([0.00001,0.0001,0.001,0.01,0.1,1,10],datum.value)>=0","value":-10},"value":-5},"title":"Normalized intensity"}},
"color":{"field":"s","type":"nominal","scale":{"domain":["203","Field star"],"range":["#9400d3","#009e73"]},"legend":{"title":null,"symbolType":"M-6.7,0H6.7M9.6,0","symbolSize":100,"symbolOffset":28.5,"labelOffset":-57}}}},
{"mark":{"type":"point","opacity":0},"encoding":{
"x":{"field":"r","type":"quantitative","scale":{"type":"log","domain":[1,100],"nice":false},"axis":{"orient":"top","values":[1,2,3,4,5,6,7,8,9,10,20,30,40,50,60,70,80,90,100],"labels":false,"tickSize":{"condition":{"test":"datum.value==1||datum.value==10||datum.value==100","value":-10},"value":-5},"title":null}},
"y":{"field":"v","type":"quantitative","scale":{"type":"log","domain":[0.00001,10],"nice":false},"axis":{"orient":"right","values":[0.00001,0.00002,0.00003,0.00004,0.00005,0.00006,0.00007,0.00008,0.00009,0.0001,0.0002,0.0003,0.0004,0.0005,0.0006,0.0007,0.0008,0.0009,0.001,0.002,0.003,0.004,0.005,0.006,0.007,0.008,0.009,0.01,0.02,0.03,0.04,0.05,0.06,0.07,0.08,0.09,0.1,0.2,0.3,0.4,0.5,0.6,0.7,0.8,0.9,1,2,3,4,5,6,7,8,9,10],"labels":false,"tickSize":{"condition":{"test":"indexof([0.00001,0.0001,0.001,0.01,0.1,1,10],datum.value)>=0","value":-10},"value":-5},"title":null}}}}
]},
{"width":276,"height":414,"transform":[{"filter":"datum.p==2"}],"resolve":{"axis":{"x":"independent","y":"independent"}},"layer":[
{"mark":{"type":"line","strokeWidth":1.1,"clip":true,"invalid":"break-paths-show-domains"},"encoding":{
"x":{"field":"r","type":"quantitative","scale":{"type":"log","domain":[1,100],"nice":false},"axis":{"orient":"bottom","values":[1,2,3,4,5,6,7,8,9,10,20,30,40,50,60,70,80,90,100],"labelExpr":"datum.value==1?'1':datum.value==10?'10':datum.value==100?'100':''","tickSize":{"condition":{"test":"datum.value==1||datum.value==10||datum.value==100","value":-10},"value":-5},"title":"Radius (arcsec)"}},
"y":{"field":"v","type":"quantitative","scale":{"type":"log","domain":[0.00001,10],"nice":false},"axis":{"orient":"left","values":[0.00001,0.00002,0.00003,0.00004,0.00005,0.00006,0.00007,0.00008,0.00009,0.0001,0.0002,0.0003,0.0004,0.0005,0.0006,0.0007,0.0008,0.0009,0.001,0.002,0.003,0.004,0.005,0.006,0.007,0.008,0.009,0.01,0.02,0.03,0.04,0.05,0.06,0.07,0.08,0.09,0.1,0.2,0.3,0.4,0.5,0.6,0.7,0.8,0.9,1,2,3,4,5,6,7,8,9,10],"labelExpr":"indexof([0.00001,0.0001,0.001,0.01,0.1,1,10],datum.value)>=0?'10'+['⁻⁵','⁻⁴','⁻³','⁻²','⁻¹','⁰','¹'][indexof([0.00001,0.0001,0.001,0.01,0.1,1,10],datum.value)]:''","tickSize":{"condition":{"test":"indexof([0.00001,0.0001,0.001,0.01,0.1,1,10],datum.value)>=0","value":-10},"value":-5},"title":"Normalized intensity"}},
"color":{"field":"s","type":"nominal","scale":{"domain":["203","Field star"],"range":["#9400d3","#009e73"]},"legend":{"title":null,"symbolType":"M-6.7,0H6.7M9.6,0","symbolSize":100,"symbolOffset":28.5,"labelOffset":-57}}}},
{"mark":{"type":"point","opacity":0},"encoding":{
"x":{"field":"r","type":"quantitative","scale":{"type":"log","domain":[1,100],"nice":false},"axis":{"orient":"top","values":[1,2,3,4,5,6,7,8,9,10,20,30,40,50,60,70,80,90,100],"labels":false,"tickSize":{"condition":{"test":"datum.value==1||datum.value==10||datum.value==100","value":-10},"value":-5},"title":null}},
"y":{"field":"v","type":"quantitative","scale":{"type":"log","domain":[0.00001,10],"nice":false},"axis":{"orient":"right","values":[0.00001,0.00002,0.00003,0.00004,0.00005,0.00006,0.00007,0.00008,0.00009,0.0001,0.0002,0.0003,0.0004,0.0005,0.0006,0.0007,0.0008,0.0009,0.001,0.002,0.003,0.004,0.005,0.006,0.007,0.008,0.009,0.01,0.02,0.03,0.04,0.05,0.06,0.07,0.08,0.09,0.1,0.2,0.3,0.4,0.5,0.6,0.7,0.8,0.9,1,2,3,4,5,6,7,8,9,10],"labels":false,"tickSize":{"condition":{"test":"indexof([0.00001,0.0001,0.001,0.01,0.1,1,10],datum.value)>=0","value":-10},"value":-5},"title":null}}}}
]},
{"width":276,"height":414,"transform":[{"filter":"datum.p==3"}],"resolve":{"axis":{"x":"independent","y":"independent"}},"layer":[
{"mark":{"type":"line","strokeWidth":1.1,"clip":true,"invalid":"break-paths-show-domains"},"encoding":{
"x":{"field":"r","type":"quantitative","scale":{"type":"log","domain":[1,100],"nice":false},"axis":{"orient":"bottom","values":[1,2,3,4,5,6,7,8,9,10,20,30,40,50,60,70,80,90,100],"labelExpr":"datum.value==1?'1':datum.value==10?'10':datum.value==100?'100':''","tickSize":{"condition":{"test":"datum.value==1||datum.value==10||datum.value==100","value":-10},"value":-5},"title":"Radius (arcsec)"}},
"y":{"field":"v","type":"quantitative","scale":{"type":"log","domain":[0.00001,10],"nice":false},"axis":{"orient":"left","values":[0.00001,0.00002,0.00003,0.00004,0.00005,0.00006,0.00007,0.00008,0.00009,0.0001,0.0002,0.0003,0.0004,0.0005,0.0006,0.0007,0.0008,0.0009,0.001,0.002,0.003,0.004,0.005,0.006,0.007,0.008,0.009,0.01,0.02,0.03,0.04,0.05,0.06,0.07,0.08,0.09,0.1,0.2,0.3,0.4,0.5,0.6,0.7,0.8,0.9,1,2,3,4,5,6,7,8,9,10],"labelExpr":"indexof([0.00001,0.0001,0.001,0.01,0.1,1,10],datum.value)>=0?'10'+['⁻⁵','⁻⁴','⁻³','⁻²','⁻¹','⁰','¹'][indexof([0.00001,0.0001,0.001,0.01,0.1,1,10],datum.value)]:''","tickSize":{"condition":{"test":"indexof([0.00001,0.0001,0.001,0.01,0.1,1,10],datum.value)>=0","value":-10},"value":-5},"title":"Normalized intensity"}},
"color":{"field":"s","type":"nominal","scale":{"domain":["203","Field star"],"range":["#9400d3","#009e73"]},"legend":{"title":null,"symbolType":"M-6.7,0H6.7M9.6,0","symbolSize":100,"symbolOffset":28.5,"labelOffset":-57}}}},
{"mark":{"type":"point","opacity":0},"encoding":{
"x":{"field":"r","type":"quantitative","scale":{"type":"log","domain":[1,100],"nice":false},"axis":{"orient":"top","values":[1,2,3,4,5,6,7,8,9,10,20,30,40,50,60,70,80,90,100],"labels":false,"tickSize":{"condition":{"test":"datum.value==1||datum.value==10||datum.value==100","value":-10},"value":-5},"title":null}},
"y":{"field":"v","type":"quantitative","scale":{"type":"log","domain":[0.00001,10],"nice":false},"axis":{"orient":"right","values":[0.00001,0.00002,0.00003,0.00004,0.00005,0.00006,0.00007,0.00008,0.00009,0.0001,0.0002,0.0003,0.0004,0.0005,0.0006,0.0007,0.0008,0.0009,0.001,0.002,0.003,0.004,0.005,0.006,0.007,0.008,0.009,0.01,0.02,0.03,0.04,0.05,0.06,0.07,0.08,0.09,0.1,0.2,0.3,0.4,0.5,0.6,0.7,0.8,0.9,1,2,3,4,5,6,7,8,9,10],"labels":false,"tickSize":{"condition":{"test":"indexof([0.00001,0.0001,0.001,0.01,0.1,1,10],datum.value)>=0","value":-10},"value":-5},"title":null}}}}
]},
{"width":276,"height":414,"transform":[{"filter":"datum.p==4"}],"resolve":{"axis":{"x":"independent","y":"independent"}},"layer":[
{"mark":{"type":"line","strokeWidth":1.1,"clip":true,"invalid":"break-paths-show-domains"},"encoding":{
"x":{"field":"r","type":"quantitative","scale":{"type":"log","domain":[1,100],"nice":false},"axis":{"orient":"bottom","values":[1,2,3,4,5,6,7,8,9,10,20,30,40,50,60,70,80,90,100],"labelExpr":"datum.value==1?'1':datum.value==10?'10':datum.value==100?'100':''","tickSize":{"condition":{"test":"datum.value==1||datum.value==10||datum.value==100","value":-10},"value":-5},"title":"Radius (arcsec)"}},
"y":{"field":"v","type":"quantitative","scale":{"type":"log","domain":[0.00001,10],"nice":false},"axis":{"orient":"left","values":[0.00001,0.00002,0.00003,0.00004,0.00005,0.00006,0.00007,0.00008,0.00009,0.0001,0.0002,0.0003,0.0004,0.0005,0.0006,0.0007,0.0008,0.0009,0.001,0.002,0.003,0.004,0.005,0.006,0.007,0.008,0.009,0.01,0.02,0.03,0.04,0.05,0.06,0.07,0.08,0.09,0.1,0.2,0.3,0.4,0.5,0.6,0.7,0.8,0.9,1,2,3,4,5,6,7,8,9,10],"labelExpr":"indexof([0.00001,0.0001,0.001,0.01,0.1,1,10],datum.value)>=0?'10'+['⁻⁵','⁻⁴','⁻³','⁻²','⁻¹','⁰','¹'][indexof([0.00001,0.0001,0.001,0.01,0.1,1,10],datum.value)]:''","tickSize":{"condition":{"test":"indexof([0.00001,0.0001,0.001,0.01,0.1,1,10],datum.value)>=0","value":-10},"value":-5},"title":"Normalized intensity"}},
"color":{"field":"s","type":"nominal","scale":{"domain":["203","Field star"],"range":["#9400d3","#009e73"]},"legend":{"title":null,"symbolType":"M-6.7,0H6.7M9.6,0","symbolSize":100,"symbolOffset":28.5,"labelOffset":-57}}}},
{"mark":{"type":"point","opacity":0},"encoding":{
"x":{"field":"r","type":"quantitative","scale":{"type":"log","domain":[1,100],"nice":false},"axis":{"orient":"top","values":[1,2,3,4,5,6,7,8,9,10,20,30,40,50,60,70,80,90,100],"labels":false,"tickSize":{"condition":{"test":"datum.value==1||datum.value==10||datum.value==100","value":-10},"value":-5},"title":null}},
"y":{"field":"v","type":"quantitative","scale":{"type":"log","domain":[0.00001,10],"nice":false},"axis":{"orient":"right","values":[0.00001,0.00002,0.00003,0.00004,0.00005,0.00006,0.00007,0.00008,0.00009,0.0001,0.0002,0.0003,0.0004,0.0005,0.0006,0.0007,0.0008,0.0009,0.001,0.002,0.003,0.004,0.005,0.006,0.007,0.008,0.009,0.01,0.02,0.03,0.04,0.05,0.06,0.07,0.08,0.09,0.1,0.2,0.3,0.4,0.5,0.6,0.7,0.8,0.9,1,2,3,4,5,6,7,8,9,10],"labels":false,"tickSize":{"condition":{"test":"indexof([0.00001,0.0001,0.001,0.01,0.1,1,10],datum.value)>=0","value":-10},"value":-5},"title":null}}}}
]},
{"width":276,"height":414,"transform":[{"filter":"datum.p==5"}],"resolve":{"axis":{"x":"independent","y":"independent"}},"layer":[
{"mark":{"type":"line","strokeWidth":1.1,"clip":true,"invalid":"break-paths-show-domains"},"encoding":{
"x":{"field":"r","type":"quantitative","scale":{"type":"log","domain":[1,100],"nice":false},"axis":{"orient":"bottom","values":[1,2,3,4,5,6,7,8,9,10,20,30,40,50,60,70,80,90,100],"labelExpr":"datum.value==1?'1':datum.value==10?'10':datum.value==100?'100':''","tickSize":{"condition":{"test":"datum.value==1||datum.value==10||datum.value==100","value":-10},"value":-5},"title":"Radius (arcsec)"}},
"y":{"field":"v","type":"quantitative","scale":{"type":"log","domain":[0.00001,10],"nice":false},"axis":{"orient":"left","values":[0.00001,0.00002,0.00003,0.00004,0.00005,0.00006,0.00007,0.00008,0.00009,0.0001,0.0002,0.0003,0.0004,0.0005,0.0006,0.0007,0.0008,0.0009,0.001,0.002,0.003,0.004,0.005,0.006,0.007,0.008,0.009,0.01,0.02,0.03,0.04,0.05,0.06,0.07,0.08,0.09,0.1,0.2,0.3,0.4,0.5,0.6,0.7,0.8,0.9,1,2,3,4,5,6,7,8,9,10],"labelExpr":"indexof([0.00001,0.0001,0.001,0.01,0.1,1,10],datum.value)>=0?'10'+['⁻⁵','⁻⁴','⁻³','⁻²','⁻¹','⁰','¹'][indexof([0.00001,0.0001,0.001,0.01,0.1,1,10],datum.value)]:''","tickSize":{"condition":{"test":"indexof([0.00001,0.0001,0.001,0.01,0.1,1,10],datum.value)>=0","value":-10},"value":-5},"title":"Normalized intensity"}},
"color":{"field":"s","type":"nominal","scale":{"domain":["203","Field star"],"range":["#9400d3","#009e73"]},"legend":{"title":null,"symbolType":"M-6.7,0H6.7M9.6,0","symbolSize":100,"symbolOffset":28.5,"labelOffset":-57}}}},
{"mark":{"type":"point","opacity":0},"encoding":{
"x":{"field":"r","type":"quantitative","scale":{"type":"log","domain":[1,100],"nice":false},"axis":{"orient":"top","values":[1,2,3,4,5,6,7,8,9,10,20,30,40,50,60,70,80,90,100],"labels":false,"tickSize":{"condition":{"test":"datum.value==1||datum.value==10||datum.value==100","value":-10},"value":-5},"title":null}},
"y":{"field":"v","type":"quantitative","scale":{"type":"log","domain":[0.00001,10],"nice":false},"axis":{"orient":"right","values":[0.00001,0.00002,0.00003,0.00004,0.00005,0.00006,0.00007,0.00008,0.00009,0.0001,0.0002,0.0003,0.0004,0.0005,0.0006,0.0007,0.0008,0.0009,0.001,0.002,0.003,0.004,0.005,0.006,0.007,0.008,0.009,0.01,0.02,0.03,0.04,0.05,0.06,0.07,0.08,0.09,0.1,0.2,0.3,0.4,0.5,0.6,0.7,0.8,0.9,1,2,3,4,5,6,7,8,9,10],"labels":false,"tickSize":{"condition":{"test":"indexof([0.00001,0.0001,0.001,0.01,0.1,1,10],datum.value)>=0","value":-10},"value":-5},"title":null}}}}
]},
{"width":276,"height":414,"transform":[{"filter":"datum.p==6"}],"resolve":{"axis":{"x":"independent","y":"independent"}},"layer":[
{"mark":{"type":"line","strokeWidth":1.1,"clip":true,"invalid":"break-paths-show-domains"},"encoding":{
"x":{"field":"r","type":"quantitative","scale":{"type":"log","domain":[1,100],"nice":false},"axis":{"orient":"bottom","values":[1,2,3,4,5,6,7,8,9,10,20,30,40,50,60,70,80,90,100],"labelExpr":"datum.value==1?'1':datum.value==10?'10':datum.value==100?'100':''","tickSize":{"condition":{"test":"datum.value==1||datum.value==10||datum.value==100","value":-10},"value":-5},"title":"Radius (arcsec)"}},
"y":{"field":"v","type":"quantitative","scale":{"type":"log","domain":[0.00001,10],"nice":false},"axis":{"orient":"left","values":[0.00001,0.00002,0.00003,0.00004,0.00005,0.00006,0.00007,0.00008,0.00009,0.0001,0.0002,0.0003,0.0004,0.0005,0.0006,0.0007,0.0008,0.0009,0.001,0.002,0.003,0.004,0.005,0.006,0.007,0.008,0.009,0.01,0.02,0.03,0.04,0.05,0.06,0.07,0.08,0.09,0.1,0.2,0.3,0.4,0.5,0.6,0.7,0.8,0.9,1,2,3,4,5,6,7,8,9,10],"labelExpr":"indexof([0.00001,0.0001,0.001,0.01,0.1,1,10],datum.value)>=0?'10'+['⁻⁵','⁻⁴','⁻³','⁻²','⁻¹','⁰','¹'][indexof([0.00001,0.0001,0.001,0.01,0.1,1,10],datum.value)]:''","tickSize":{"condition":{"test":"indexof([0.00001,0.0001,0.001,0.01,0.1,1,10],datum.value)>=0","value":-10},"value":-5},"title":"Normalized intensity"}},
"color":{"field":"s","type":"nominal","scale":{"domain":["203","Field star"],"range":["#9400d3","#009e73"]},"legend":{"title":null,"symbolType":"M-6.7,0H6.7M9.6,0","symbolSize":100,"symbolOffset":28.5,"labelOffset":-57}}}},
{"mark":{"type":"point","opacity":0},"encoding":{
"x":{"field":"r","type":"quantitative","scale":{"type":"log","domain":[1,100],"nice":false},"axis":{"orient":"top","values":[1,2,3,4,5,6,7,8,9,10,20,30,40,50,60,70,80,90,100],"labels":false,"tickSize":{"condition":{"test":"datum.value==1||datum.value==10||datum.value==100","value":-10},"value":-5},"title":null}},
"y":{"field":"v","type":"quantitative","scale":{"type":"log","domain":[0.00001,10],"nice":false},"axis":{"orient":"right","values":[0.00001,0.00002,0.00003,0.00004,0.00005,0.00006,0.00007,0.00008,0.00009,0.0001,0.0002,0.0003,0.0004,0.0005,0.0006,0.0007,0.0008,0.0009,0.001,0.002,0.003,0.004,0.005,0.006,0.007,0.008,0.009,0.01,0.02,0.03,0.04,0.05,0.06,0.07,0.08,0.09,0.1,0.2,0.3,0.4,0.5,0.6,0.7,0.8,0.9,1,2,3,4,5,6,7,8,9,10],"labels":false,"tickSize":{"condition":{"test":"indexof([0.00001,0.0001,0.001,0.01,0.1,1,10],datum.value)>=0","value":-10},"value":-5},"title":null}}}}
]}
],
"config":{
"font":"Liberation Sans",
"view":{"stroke":"black","strokeWidth":2},
"axis":{"domain":false,"grid":false,"labelFont":"Liberation Sans","labelFontSize":23,"labelColor":"black","titleFont":"Liberation Sans","titleFontSize":23,"titleFontWeight":"normal","titleColor":"black","tickColor":"black","tickWidth":1,"labelOverlap":false,"labelFlush":false,"labelBound":false,"labelPadding":24,"titlePadding":10},
"axisBottom":{"titlePadding":8},
"legend":{"orient":"top-right","symbolStrokeWidth":1.1,"labelFont":"Liberation Sans","labelFontSize":23,"labelColor":"black","labelAlign":"right","rowPadding":0,"padding":0,"offset":12.5}
}
}
